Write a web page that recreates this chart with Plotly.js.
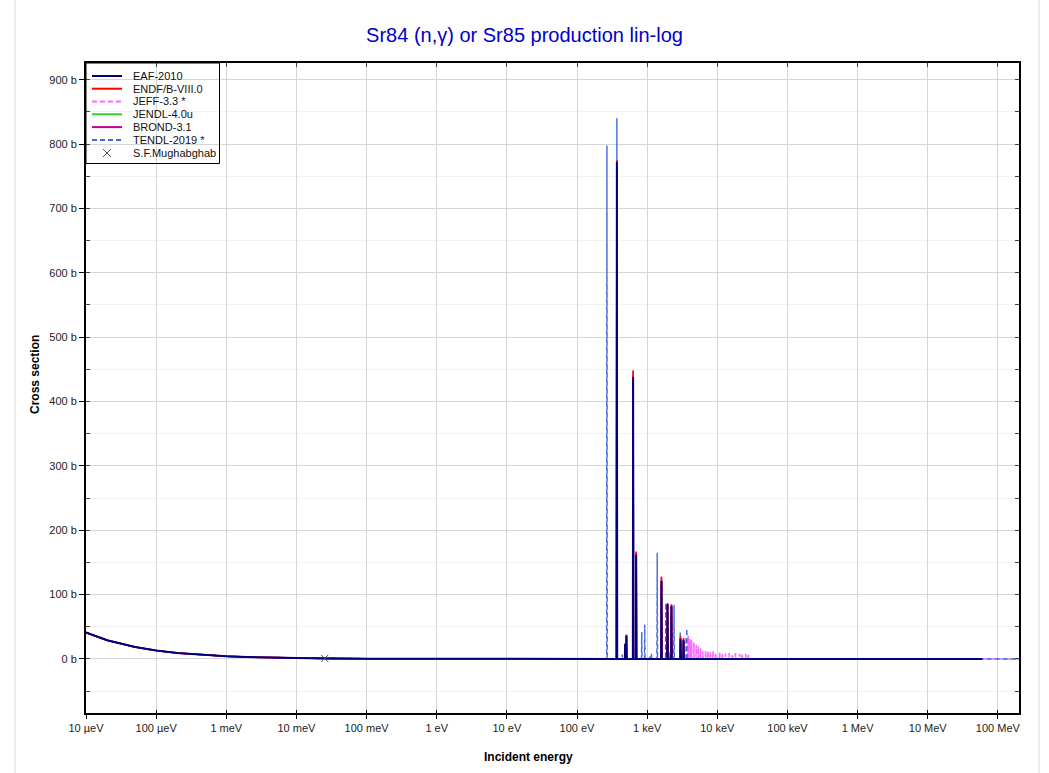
<!DOCTYPE html>
<html>
<head>
<meta charset="utf-8">
<script src="https://cdn.plot.ly/plotly-3.0.1.min.js"></script>
<style>html,body{margin:0;padding:0;background:#fff;}#chart{width:1049px;height:773px;}</style>
</head>
<body>
<div id="chart"></div>
<script>
// ---------- DATA ----------
// Shared low-energy (1/v) part, energies in eV, cross sections in barns
const lowE = [1e-5, 2e-5, 5e-5, 1e-4, 2e-4, 5e-4, 1e-3, 2e-3, 5e-3, 1e-2, 2.53e-2, 0.1, 1, 10, 100, 200];
const lowS = [41, 29, 18.5, 13, 9.2, 5.8, 4.1, 2.9, 1.85, 1.3, 0.82, 0.41, 0.13, 0.05, 0.03, 0.03];

// Shared fast-energy part
const hiE = [4e4, 1e5, 1e6, 1e7, 2e7];
const hiS = [0.03, 0.02, 0.008, 0.002, 0.001];
const extE = [6e7, 1e8, 2e8];
const extS = [0.0005, 0.0003, 0.0002];

// Resolved resonance region (energies of points and cross sections)
const resE = [366,370,374, 480,485,490, 501,506,511, 625,631,637, 690,697,704,
              1584,1600,1616, 1930,1950,1970, 2198,2220,2242, 2960,2990,3020, 3267,3300,3333];
const eafS   = [0.05,772,0.05, 0.05,23,0.05, 0.05,36,0.05, 0.05,438,0.05, 0.05,162,0.05,
                0.05,121,0.05, 0.05,85,0.05, 0.05,82,0.05, 0.05,31,0.05, 0.05,29,0.05];
const endfS  = [0.05,775,0.05, 0.05,24,0.05, 0.05,38,0.05, 0.05,448,0.05, 0.05,167,0.05,
                0.05,128,0.05, 0.05,87,0.05, 0.05,85,0.05, 0.05,35,0.05, 0.05,32,0.05];
const jendlS = [0.05,770,0.05, 0.05,23,0.05, 0.05,37,0.05, 0.05,442,0.05, 0.05,164,0.05,
                0.05,123,0.05, 0.05,85,0.05, 0.05,83,0.05, 0.05,32,0.05, 0.05,30,0.05];
const brondS = [0.05,772,0.05, 0.05,23,0.05, 0.05,36,0.05, 0.05,440,0.05, 0.05,163,0.05,
                0.05,122,0.05, 0.05,85,0.05, 0.05,82,0.05, 0.05,31,0.05, 0.05,29,0.05];

// JEFF-3.3 additional dense resonances (3.5 - 28 keV)
const jeffClE = [3485,3520,3555, 3812,3850,3888, 4030,4070,4110, 4257,4300,4343, 4594,4640,4686,
                 4960,5010,5060, 5297,5350,5403, 5712,5770,5828, 6158,6220,6282, 6732,6800,6868,
                 7267,7340,7413, 7861,7940,8019, 8564,8650,8736, 9365,9460,9555, 10690,10800,10910,
                 11680,11800,11920, 12970,13100,13230, 14550,14700,14850, 16240,16400,16560,
                 18020,18200,18380, 20590,20800,21010, 22470,22700,22930, 25150,25400,25650,
                 27420,27700,27980];
const jeffClS = [0.3,34,0.3, 0.3,36,0.3, 0.3,31,0.3, 0.3,29,0.3, 0.3,25,0.3,
                 0.3,22,0.3, 0.3,20,0.3, 0.3,16,0.3, 0.3,12,0.3, 0.3,13.5,0.3,
                 0.3,12,0.3, 0.3,11,0.3, 0.3,12,0.3, 0.3,9,0.3, 0.3,11,0.3,
                 0.3,9,0.3, 0.3,8.5,0.3, 0.3,9,0.3, 0.3,8,0.3,
                 0.3,9,0.3, 0.3,8,0.3, 0.3,7,0.3, 0.3,8,0.3,
                 0.3,6,0.3];

// TENDL-2019 resonances
const tendlE = [264,267,270, 366,370,374, 436,440,444, 829,837,845, 915,924,933,
                1089,1100,1111, 1139,1150,1161, 1376,1390,1404, 1827,1845,1863,
                2079,2100,2121, 2392,2416,2440, 2930,2960,2990, 3643,3680,3717];
const tendlS = [0.05,798,0.05, 0.05,840,0.05, 0.05,7,0.05, 0.05,42,0.05, 0.05,53,0.05,
                0.05,6,0.05, 0.05,8,0.05, 0.05,165,0.05, 0.05,87,0.05,
                0.05,10,0.05, 0.05,84,0.05, 0.05,42,0.05, 0.05,47,0.05];

// Experimental point (S.F.Mughabghab)
const expE = [0.0253];
const expS = [0.82];

// Labels
const libNames  = ['EAF-2010', 'ENDF/B-VIII.0', 'JEFF-3.3 *', 'JENDL-4.0u', 'BROND-3.1', 'TENDL-2019 *'];
const libColors = ['#00007f', '#ff0000', '#ff66ff', '#33cc33', '#c00090', '#4169e1'];
const libDash   = ['solid', 'solid', '5px,3px', 'solid', 'solid', '5px,3px'];
const expName = 'S.F.Mughabghab';
const xTickVals = [1e-5, 1e-4, 1e-3, 1e-2, 1e-1, 1, 10, 100, 1e3, 1e4, 1e5, 1e6, 1e7, 1e8];
const xTickText = ['10 µeV', '100 µeV', '1 meV', '10 meV', '100 meV', '1 eV', '10 eV', '100 eV',
                   '1 keV', '10 keV', '100 keV', '1 MeV', '10 MeV', '100 MeV'];
const titleText = 'Sr84 (n,γ) or Sr85 production lin-log';
const xTitle = 'Incident energy';
const yTitle = 'Cross section';

// ---------- BUILD SERIES ----------
const series = [
  {x: lowE.concat(resE, hiE, [6e7]), y: lowS.concat(eafS, hiS, [0.0005])},
  {x: lowE.concat(resE, hiE), y: lowS.concat(endfS, hiS)},
  {x: lowE.concat(resE, jeffClE, hiE, [1e8, 2e8]), y: lowS.concat(endfS, jeffClS, hiS, [0.0003, 0.0002])},
  {x: lowE.concat(resE, hiE), y: lowS.concat(jendlS, hiS)},
  {x: lowE.concat(resE, hiE), y: lowS.concat(brondS, hiS)},
  {x: lowE.concat(tendlE, hiE, extE), y: lowS.concat(tendlS, hiS, extS)}
];
const drawOrder = [3, 2, 5, 4, 1, 0];
const widths = [2, 1.6, 1.6, 1.6, 1.6, 1.4];

const traces = drawOrder.map(i => ({
  type: 'scatter', mode: 'lines', name: libNames[i],
  x: series[i].x, y: series[i].y,
  line: {color: libColors[i], width: widths[i], dash: libDash[i]},
  showlegend: false, hoverinfo: 'skip'
}));
traces.push({
  type: 'scatter', mode: 'markers', name: expName, x: expE, y: expS,
  marker: {symbol: 'x-thin-open', size: 7, color: '#555', line: {width: 1, color: '#555'}},
  showlegend: false, hoverinfo: 'skip'
});
// empty traces to activate the overlay (frame) axes
traces.push({type: 'scatter', x: [], y: [], xaxis: 'x2', yaxis: 'y2', showlegend: false});
traces.push({type: 'scatter', x: [], y: [], xaxis: 'x3', yaxis: 'y', showlegend: false});

// ---------- LAYOUT ----------
const L = 86, R = 1019, T = 63, B = 713;
const px = p => (p - L) / (R - L);
const py = p => (B - p) / (B - T);
const xr = [-5, Math.log10(2e8)];
const yr = [-84, 926];

const shapes = [], annotations = [];
// page border lines
[15, 1039].forEach(xx => shapes.push({type: 'line', xref: 'paper', yref: 'paper',
  x0: px(xx), x1: px(xx), y0: py(0), y1: py(773), line: {color: '#eeeeee', width: 2}, layer: 'below'}));
// legend box
shapes.push({type: 'rect', xref: 'paper', yref: 'paper', x0: px(86), x1: px(219.5), y0: py(63), y1: py(163.5),
  line: {color: '#000', width: 1}, fillcolor: 'rgba(0,0,0,0)', layer: 'above'});
const rowY = [76, 88.7, 101.5, 114.3, 127.1, 140, 152.8];
for (let i = 0; i < libNames.length; i++) {
  shapes.push({type: 'line', xref: 'paper', yref: 'paper', x0: px(92), x1: px(122), y0: py(rowY[i]), y1: py(rowY[i]),
    line: {color: libColors[i], width: 2, dash: libDash[i] === 'solid' ? 'solid' : '5px,3px'}, layer: 'above'});
  annotations.push({xref: 'paper', yref: 'paper', x: px(131), y: py(rowY[i]), xanchor: 'left', yanchor: 'middle',
    text: libNames[i], showarrow: false, font: {size: 11, color: '#111'}});
}
// legend X marker
shapes.push({type: 'line', xref: 'paper', yref: 'paper', x0: px(103), x1: px(111), y0: py(149), y1: py(157), line: {color: '#555', width: 1}, layer: 'above'});
shapes.push({type: 'line', xref: 'paper', yref: 'paper', x0: px(103), x1: px(111), y0: py(157), y1: py(149), line: {color: '#555', width: 1}, layer: 'above'});
annotations.push({xref: 'paper', yref: 'paper', x: px(131), y: py(rowY[6]), xanchor: 'left', yanchor: 'middle',
  text: expName, showarrow: false, font: {size: 11, color: '#111'}});
// axis titles
annotations.push({xref: 'paper', yref: 'paper', x: px(528), y: py(757), xanchor: 'center', yanchor: 'middle',
  text: '<b>' + xTitle + '</b>', showarrow: false, font: {size: 12, color: '#000'}});
annotations.push({xref: 'paper', yref: 'paper', x: px(35), y: py(375), xanchor: 'center', yanchor: 'middle',
  text: '<b>' + yTitle + '</b>', textangle: -90, showarrow: false, font: {size: 12, color: '#000'}});

const layout = {
  width: 1049, height: 773,
  margin: {l: L, r: 1049 - R, t: T, b: 773 - B, pad: 0},
  paper_bgcolor: '#fff', plot_bgcolor: '#fff',
  font: {family: 'Liberation Sans, Arial, sans-serif', size: 11, color: '#222'},
  title: {text: titleText, font: {size: 20, color: '#0000cc'}, x: 0.5, xref: 'container', xanchor: 'center',
          y: 1 - 35 / 773, yref: 'container', yanchor: 'middle'},
  showlegend: false,
  xaxis: {type: 'log', range: xr, tickmode: 'array', tickvals: xTickVals, ticktext: xTickText,
          ticks: 'outside', ticklen: 4, tickwidth: 1, tickcolor: '#000',
          showline: true, linecolor: '#000', linewidth: 2, showgrid: true, gridcolor: '#d6d6d6', gridwidth: 1,
          zeroline: false, tickfont: {size: 11, color: '#222'}},
  xaxis2: {type: 'log', range: xr, overlaying: 'x', side: 'top', anchor: 'y', tickmode: 'array', tickvals: xTickVals,
           ticks: 'inside', ticklen: 4, tickcolor: '#444', showticklabels: false, showline: true, linecolor: '#000',
           linewidth: 2, showgrid: false, zeroline: false},
  xaxis3: {type: 'log', range: xr, overlaying: 'x', side: 'bottom', anchor: 'y', tickmode: 'array', tickvals: xTickVals,
           ticks: 'inside', ticklen: 3, tickcolor: '#000', showticklabels: false, showline: false,
           showgrid: false, zeroline: false},
  yaxis: {range: yr, tickmode: 'linear', tick0: 0, dtick: 100, ticksuffix: ' b',
          ticks: 'outside', ticklen: 5, tickwidth: 1, tickcolor: '#000',
          showline: true, linecolor: '#000', linewidth: 2, showgrid: true, gridcolor: '#d6d6d6', gridwidth: 1,
          zeroline: false, tickfont: {size: 11, color: '#222'},
          minor: {tick0: 0, dtick: 50, ticks: 'inside', ticklen: 4, tickcolor: '#444', showgrid: true, gridcolor: '#f1f1f1', gridwidth: 1}},
  yaxis2: {range: yr, overlaying: 'y', side: 'right', anchor: 'x', tickmode: 'linear', tick0: 0, dtick: 100,
           ticks: 'inside', ticklen: 4, tickcolor: '#444', showticklabels: false, showline: true, linecolor: '#000',
           linewidth: 2, showgrid: false, zeroline: false,
           minor: {tick0: 0, dtick: 50, ticks: 'inside', ticklen: 4, tickcolor: '#444', showgrid: false}},
  shapes: shapes,
  annotations: annotations
};

Plotly.newPlot('chart', traces, layout, {staticPlot: true, displayModeBar: false});
</script>
</body>
</html>
